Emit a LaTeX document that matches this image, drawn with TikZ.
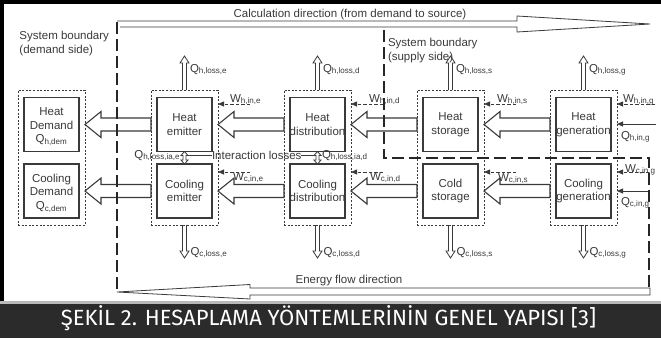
\documentclass[tikz,border=0pt]{standalone}
\usepackage{fontspec}
\setmainfont{Liberation Sans}
\newfontfamily\capfont{Fira Sans}
\usetikzlibrary{calc,arrows.meta}
\definecolor{ink}{HTML}{3A3A3A}
\definecolor{capbg}{HTML}{2B2B2B}
% hollow fat arrow: #1 tip point, #2 tail point (same row)
\newcommand{\fatarr}[2]{%
  \draw[fat] (#1) -- ($(#1)+(16,-13)$) -- ($(#1)+(16,-6.5)$) -- ($(#2)+(0,-6.5)$)
    -- ($(#2)+(0,6.5)$) -- ($(#1)+(16,6.5)$) -- ($(#1)+(16,13)$) -- cycle;}
% thin hollow loss arrow going up from #1
\newcommand{\lossup}[1]{%
  \draw[thinarr] ($(#1)+(-2,0)$) -- ($(#1)+(-2,-27)$) -- ($(#1)+(-4.5,-27)$) -- ($(#1)+(0,-34)$)
    -- ($(#1)+(4.5,-27)$) -- ($(#1)+(2,-27)$) -- ($(#1)+(2,0)$);}
% thin hollow loss arrow going down from #1
\newcommand{\lossdown}[1]{%
  \draw[thinarr] ($(#1)+(-2,0)$) -- ($(#1)+(-2,26)$) -- ($(#1)+(-4.5,26)$) -- ($(#1)+(0,33)$)
    -- ($(#1)+(4.5,26)$) -- ($(#1)+(2,26)$) -- ($(#1)+(2,0)$);}
% small double-headed hollow arrow starting at top tip #1
\newcommand{\dblarr}[1]{%
  \draw[thinarr] (#1) -- ++(3.5,4) -- ++(-2,0) -- ++(0,4.5) -- ++(2,0) -- ++(-3.5,4)
    -- ++(-3.5,-4) -- ++(2,0) -- ++(0,-4.5) -- ++(-2,0) -- cycle;}
\begin{document}
\begin{tikzpicture}[x=1pt,y=-1pt,
  every node/.style={inner sep=0pt, outer sep=0pt, text=ink, font=\fontsize{11.5}{13.5}\selectfont},
  colbox/.style={draw=ink, line width=0.8pt, dash pattern=on 2pt off 1.6pt, minimum width=67pt, minimum height=135pt},
  unitbox/.style={draw=ink, line width=1.1pt, minimum width=55pt, minimum height=54pt},
  boxtxt/.style={align=center},
  fat/.style={draw=ink, line width=1.1pt, line join=miter},
  thinarr/.style={draw=ink, line width=0.8pt},
  bound/.style={draw=black!85, line width=2pt, dash pattern=on 12pt off 5pt},
  wline/.style={draw=ink, line width=0.8pt, dash pattern=on 3.5pt off 2pt, -{Triangle[length=6pt,width=5pt]}},
  qline/.style={draw=ink, line width=0.8pt, -{Triangle[length=6pt,width=5pt]}},
  bigarr/.style={draw=ink, line width=0.8pt, line join=miter},
]
\useasboundingbox (0,0) rectangle (661,338);
% frame and caption bar
\fill[white] (0,0) rectangle (661,303);
\fill[black] (0,0) rectangle (661,3.5);
\fill[black] (0,0) rectangle (4,303);
\fill[gray!55] (0,301) rectangle (661,303.5);
\fill[capbg] (0,303.5) rectangle (661,338);

% columns: dotted frame, heat unit, cooling unit
\foreach \n/\x in {dem/51.5, emi/184.5, dis/317.5, sto/450.5, gen/583.5} {
  \node[colbox] (c\n) at (\x,157.5) {};
  \node[unitbox] (h\n) at (\x,124.5) {};
  \node[unitbox] (k\n) at (\x,191) {};
}

% unit texts
\node[boxtxt] (thdem) at (51.5,126.5) {Heat\\Demand\\Q\textsubscript{h,dem}};
\node[boxtxt] (themi) at (hemi) {Heat\\emitter};
\node[boxtxt] (thdis) at (hdis) {Heat\\distribution};
\node[boxtxt] (thsto) at (hsto) {Heat\\storage};
\node[boxtxt] (thgen) at (hgen) {Heat\\generation};
\node[boxtxt] (tkdem) at (51.5,193) {Cooling\\Demand\\Q\textsubscript{c,dem}};
\node[boxtxt] (tkemi) at (kemi) {Cooling\\emitter};
\node[boxtxt] (tkdis) at (kdis) {Cooling\\distribution};
\node[boxtxt] (tksto) at (ksto) {Cold\\storage};
\node[boxtxt] (tkgen) at (kgen) {Cooling\\generation};

% hollow energy-flow arrows between columns
\fatarr{cdem.east |- hdem}{cemi.west |- hdem}
\fatarr{cemi.east |- hemi}{cdis.west |- hemi}
\fatarr{cdis.east |- hdis}{csto.west |- hdis}
\fatarr{csto.east |- hsto}{cgen.west |- hsto}
\fatarr{cdem.east |- kdem}{cemi.west |- kdem}
\fatarr{cemi.east |- kemi}{cdis.west |- kemi}
\fatarr{cdis.east |- kdis}{csto.west |- kdis}
\fatarr{csto.east |- ksto}{cgen.west |- ksto}

% loss arrows
\foreach \n/\s in {emi/e, dis/d, sto/s, gen/g} {
  \lossup{c\n.north}
  \node[anchor=base west] (lu\n) at ($(c\n.north)+(5.5,-18)$) {Q\textsubscript{h,loss,\s}};
  \lossdown{c\n.south}
  \node[anchor=base west] (ld\n) at ($(c\n.south)+(6,30)$) {Q\textsubscript{c,loss,\s}};
}

% auxiliary energy arrows, heat row
\foreach \n/\s/\o/\L in {emi/e/12/32, dis/d/18/32, sto/s/13/32, gen/g/6/38} {
  \draw[wline] ($(c\n.east)+(\L,-53.5)$) -- ($(c\n.east)+(0,-53.5)$);
  \node[anchor=base west] (wh\n) at ($(c\n.east)+(\o,-55.5)$) {W\textsubscript{h,in,\s}};
}
% auxiliary energy arrows, cooling row
\foreach \n/\s/\o/\b in {emi/e/15/22.5, dis/d/19/22.5, sto/s/14/23.5, gen/g/8/14.5} {
  \draw[wline] ($(c\n.east)+(32,14.5)$) -- ($(c\n.east)+(0,14.5)$);
  \node[anchor=base west] (wk\n) at ($(c\n.east)+(\o,\b)$) {W\textsubscript{c,in,\s}};
}

% energy input to generation
\draw[qline] ($(cgen.east)+(39,-33.5)$) -- ($(cgen.east)+(0,-33.5)$);
\node[anchor=base west] (qhin) at ($(cgen.east)+(4,-18.5)$) {Q\textsubscript{h,in,g}};
\draw[qline] ($(cgen.east)+(31,33.5)$) -- ($(cgen.east)+(0,33.5)$);
\node[anchor=base west] (qcin) at ($(cgen.east)+(4,47.5)$) {Q\textsubscript{c,in,g}};

% interaction losses
\dblarr{hemi.south}
\dblarr{hdis.south}
\node[anchor=base east] (qiae) at (180,158) {Q\textsubscript{h,loss,ia,e}};
\node[anchor=base west] (qiad) at (322,158) {Q\textsubscript{h,loss,ia,d}};
\node[anchor=base west] (ia) at (212,159.5) {Interaction losses};
\draw[ink, line width=0.9pt] (ia.west) -- ++(-24,0);
\draw[ink, line width=0.9pt] (ia.east) -- ++(14,0);

% direction arrows
\draw[bigarr] (117,21) -- (517,21) -- (517,16) -- (650,24) -- (517,32) -- (517,27) -- (120,27);
\draw[bigarr] (117,292) -- (250,284.5) -- (250,288) -- (650,288) -- (650,295) -- (250,295) -- (250,299) -- cycle;
\node[anchor=base] (calcdir) at (350,17.5) {Calculation direction (from demand to source)};
\node[anchor=base] (eflow) at (349,283.5) {Energy flow direction};

% system boundaries
\draw[bound] (117,22) -- (117,292);
\draw[bound] (384,30) -- (384,158) -- (649,158) -- (649,287);
\node[anchor=north west, align=left] (sbd) at (19.5,31.5) {System boundary\\(demand side)};
\node[anchor=north west, align=left] (sbs) at (388,38.5) {System boundary\\(supply side)};

% caption
\node[anchor=base, text=white, font=\capfont\fontsize{22}{26}\selectfont] (cap) at (328.5,325) {ŞEKİL 2. HESAPLAMA YÖNTEMLERİNİN GENEL YAPISI [3]};
\end{tikzpicture}
\end{document}
